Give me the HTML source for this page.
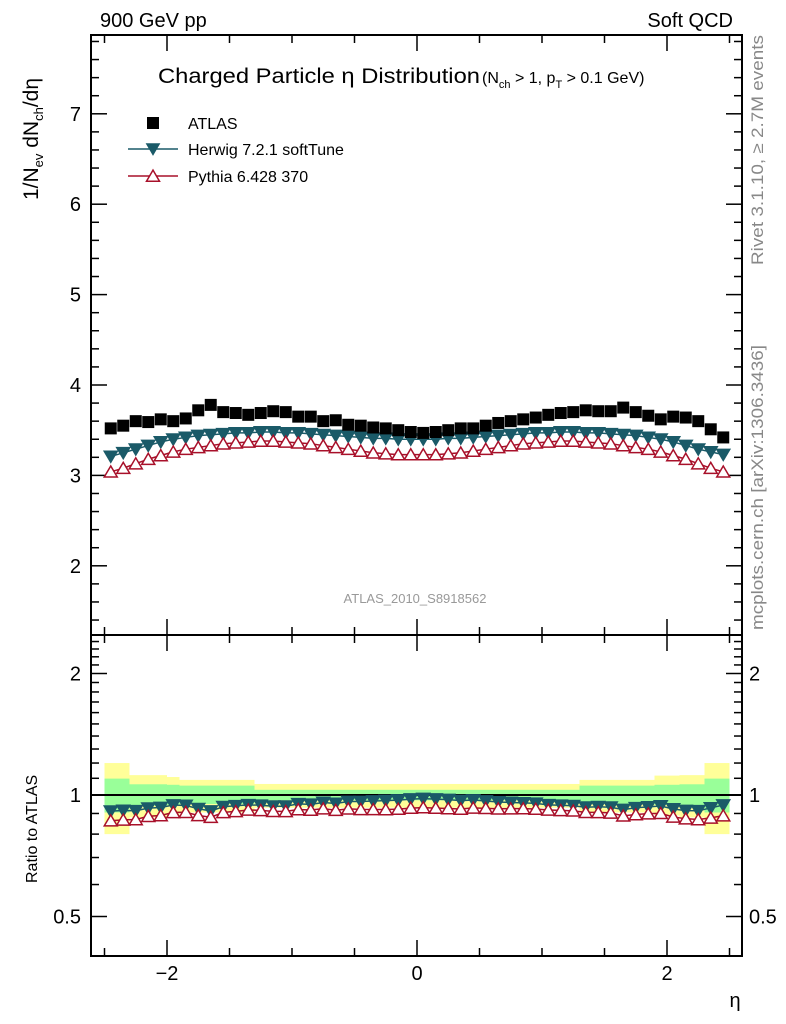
<!DOCTYPE html>
<html><head><meta charset="utf-8"><style>
html,body{margin:0;padding:0;background:#fff;}
svg{display:block;font-family:"Liberation Sans",sans-serif;}
</style></head><body>
<svg id="chart" width="786" height="1024" viewBox="0 0 786 1024" xmlns="http://www.w3.org/2000/svg">
<text x="100" y="27" font-size="20">900 GeV pp</text>
<text x="733" y="27" font-size="20" text-anchor="end">Soft QCD</text>
<text transform="translate(763,265) rotate(-90)" font-size="16.5" fill="#888" textLength="230" lengthAdjust="spacingAndGlyphs">Rivet 3.1.10, ≥ 2.7M events</text>
<text transform="translate(763,630) rotate(-90)" font-size="16.5" fill="#888" textLength="285" lengthAdjust="spacingAndGlyphs">mcplots.cern.ch [arXiv:1306.3436]</text>
<text transform="translate(38,200) rotate(-90)" font-size="21">1/N<tspan font-size="13" dy="5">ev</tspan><tspan dy="-5"> dN</tspan><tspan font-size="13" dy="5">ch</tspan><tspan dy="-5">/dη</tspan></text>
<text transform="translate(37,883) rotate(-90)" font-size="16">Ratio to ATLAS</text>
<text x="158" y="83" font-size="21" textLength="322" lengthAdjust="spacingAndGlyphs">Charged Particle η Distribution</text>
<text x="482" y="83" font-size="16">(N<tspan font-size="11" dy="5">ch</tspan><tspan dy="-5"> &gt; 1, p</tspan><tspan font-size="11" dy="5">T</tspan><tspan dy="-5"> &gt; 0.1 GeV)</tspan></text>
<text x="415" y="603" font-size="13" fill="#999" text-anchor="middle">ATLAS_2010_S8918562</text>
<text x="735" y="1007" font-size="20" text-anchor="middle">η</text>
<g id="g"></g>
</svg>
<script>
const etas=[-2.45,-2.35,-2.25,-2.15,-2.05,-1.95,-1.85,-1.75,-1.65,-1.55,-1.45,-1.35,-1.25,-1.15,-1.05,-0.95,-0.85,-0.75,-0.65,-0.55,-0.45,-0.35,-0.25,-0.15,-0.05,0.05,0.15,0.25,0.35,0.45,0.55,0.65,0.75,0.85,0.95,1.05,1.15,1.25,1.35,1.45,1.55,1.65,1.75,1.85,1.95,2.05,2.15,2.25,2.35,2.45];
const atlas=[3.52,3.55,3.60,3.59,3.62,3.60,3.63,3.72,3.78,3.70,3.69,3.67,3.69,3.71,3.70,3.65,3.65,3.60,3.61,3.56,3.55,3.53,3.52,3.50,3.48,3.47,3.48,3.50,3.52,3.52,3.55,3.58,3.60,3.62,3.64,3.67,3.69,3.70,3.72,3.71,3.71,3.75,3.70,3.66,3.62,3.65,3.64,3.60,3.51,3.42];
const herwig=[3.21,3.25,3.29,3.33,3.37,3.40,3.42,3.44,3.45,3.46,3.47,3.47,3.48,3.48,3.47,3.47,3.46,3.45,3.44,3.43,3.42,3.41,3.41,3.40,3.40,3.40,3.40,3.41,3.41,3.42,3.43,3.44,3.45,3.46,3.47,3.47,3.48,3.48,3.47,3.47,3.46,3.45,3.44,3.42,3.40,3.37,3.33,3.29,3.26,3.23];
const pythia=[3.04,3.08,3.13,3.18,3.22,3.26,3.29,3.31,3.33,3.35,3.36,3.37,3.38,3.38,3.37,3.36,3.35,3.33,3.31,3.29,3.27,3.25,3.24,3.23,3.23,3.23,3.23,3.24,3.25,3.27,3.29,3.31,3.33,3.35,3.36,3.37,3.38,3.38,3.37,3.36,3.35,3.33,3.31,3.29,3.26,3.22,3.18,3.13,3.08,3.04];
const bandEdges=[-2.5,-2.3,-2.0,-1.9,-1.3,1.3,1.9,2.1,2.3,2.5];
const yellowHi=[1.20,1.12,1.108,1.09,1.065,1.09,1.117,1.12,1.20];
const yellowLo=[0.80,0.88,0.89,0.905,0.93,0.905,0.89,0.88,0.80];
const greenHi=[1.098,1.063,1.06,1.055,1.03,1.055,1.06,1.063,1.098];
const greenLo=[0.905,0.94,0.945,0.95,0.97,0.95,0.945,0.94,0.905];
const mainTicks=[2,3,4,5,6,7];
const ratioTicks=[0.5,1,2];
const xTicks=[-2,0,2];

const NS='http://www.w3.org/2000/svg';
const g=document.getElementById('g');
const L=91,R=742,T=35,M=635,B=956;
const X=v=>417+125*v;
const Y=v=>385-(v-4)*90.4;
const YR=v=>795-Math.log2(v)*121.5;
function mk(tag,attrs,parent){const e=document.createElementNS(NS,tag);for(const k in attrs)e.setAttribute(k,attrs[k]);(parent||g).appendChild(e);return e;}

for(let i=0;i<yellowHi.length;i++){
  const x0=X(bandEdges[i]),x1=X(bandEdges[i+1]);
  const yb=mk('rect',{x:x0,y:YR(yellowHi[i]),width:x1-x0,height:YR(yellowLo[i])-YR(yellowHi[i]),fill:'#ffff99'});
  
  
  const gb=mk('rect',{x:x0,y:YR(greenHi[i]),width:x1-x0,height:YR(greenLo[i])-YR(greenHi[i]),fill:'#99ff99'});
  
  
}
const ref=mk('line',{x1:L,x2:R,y1:YR(1),y2:YR(1),stroke:'#000','stroke-width':2});



const f1=mk('rect',{x:L,y:T,width:R-L,height:M-T,fill:'none',stroke:'#000','stroke-width':2});


const f2=mk('rect',{x:L,y:M,width:R-L,height:B-M,fill:'none',stroke:'#000','stroke-width':2});



for(let v=1.4;v<=7.81;v+=0.2){
  const vv=Math.round(v*10)/10, major=Math.abs(vv-Math.round(vv))<1e-6, len=major?16:8, y=Y(vv);
  mk('line',{x1:L,x2:L+len,y1:y,y2:y,stroke:'#000','stroke-width':1.5});
  mk('line',{x1:R,x2:R-len,y1:y,y2:y,stroke:'#000','stroke-width':1.5});
}
mainTicks.forEach(v=>{const t=mk('text',{x:81,y:Y(v)+7,'font-size':20,'text-anchor':'end'});t.textContent=v;

});
[0.5,0.6,0.7,0.8,0.9,1,1.1,1.2,1.3,1.4,1.5,1.6,1.7,1.8,1.9,2,2.1,2.2,2.3,2.4].forEach(v=>{
  const major=ratioTicks.includes(v),len=major?16:8,y=YR(v);
  mk('line',{x1:L,x2:L+len,y1:y,y2:y,stroke:'#000','stroke-width':1.5});
  mk('line',{x1:R,x2:R-len,y1:y,y2:y,stroke:'#000','stroke-width':1.5});
});
ratioTicks.forEach(v=>{
  const t=mk('text',{x:81,y:YR(v)+7,'font-size':20,'text-anchor':'end'});t.textContent=v;
  
  
  const t2=mk('text',{x:749,y:YR(v)+7,'font-size':20});t2.textContent=v;
  
  
});
for(let v=-2.5;v<=2.51;v+=0.5){
  const major=Math.abs(v-Math.round(v))<1e-6&&Math.round(v)%2===0,len=major?16:8,x=X(v);
  [[T,1],[M,-1],[M,1],[B,-1]].forEach(([y0,d])=>mk('line',{x1:x,x2:x,y1:y0,y2:y0+d*len,stroke:'#000','stroke-width':1.5}));
}
xTicks.forEach(v=>{const t=mk('text',{x:X(v),y:980,'font-size':20,'text-anchor':'middle'});t.textContent=v===0?'0':(v<0?'\u2212'+(-v):v);

});

function triDown(x,y,s){return `${x-s},${y-s*0.8} ${x+s},${y-s*0.8} ${x},${y+s*0.9}`;}
function triUp(x,y,s){return `${x-s},${y+s*0.8} ${x+s},${y+s*0.8} ${x},${y-s*0.9}`;}
function series(vals,color,up,yf,name){
  const pts=etas.map((e,i)=>X(e)+','+yf(vals[i])).join(' ');
  const l=mk('polyline',{points:pts,fill:'none',stroke:color,'stroke-width':1.5});
  
  
  etas.forEach((e,i)=>{
    const p=mk('polygon',{points:(up?triUp:triDown)(X(e),yf(vals[i]),6.5),fill:up?'#fff':color,stroke:color,'stroke-width':1.5});
    
    
  });
}
series(herwig,'#1a5a68',false,Y,'herwig');
series(pythia,'#a8102a',true,Y,'pythia');
etas.forEach((e,i)=>{
  const r=mk('rect',{x:X(e)-6,y:Y(atlas[i])-6,width:12,height:12,fill:'#000'});
  
  
});
series(herwig.map((v,i)=>v/atlas[i]),'#1a5a68',false,YR,'herwig-ratio');
series(pythia.map((v,i)=>v/atlas[i]),'#a8102a',true,YR,'pythia-ratio');

const lg=mk('g',{});


mk('rect',{x:147,y:117,width:12,height:12,fill:'#000'},lg);
mk('line',{x1:128,x2:178,y1:149,y2:149,stroke:'#1a5a68','stroke-width':1.5},lg);
mk('polygon',{points:triDown(153,149,6.5),fill:'#1a5a68',stroke:'#1a5a68'},lg);
mk('line',{x1:128,x2:178,y1:176,y2:176,stroke:'#a8102a','stroke-width':1.5},lg);
mk('polygon',{points:triUp(153,176,6.5),fill:'#fff',stroke:'#a8102a','stroke-width':1.5},lg);
[['ATLAS',129],['Herwig 7.2.1 softTune',155],['Pythia 6.428 370',182]].forEach(([s,y])=>{
  const t=mk('text',{x:188,y:y,'font-size':16},lg);t.textContent=s;
  
  
});
</script>
</body></html>
